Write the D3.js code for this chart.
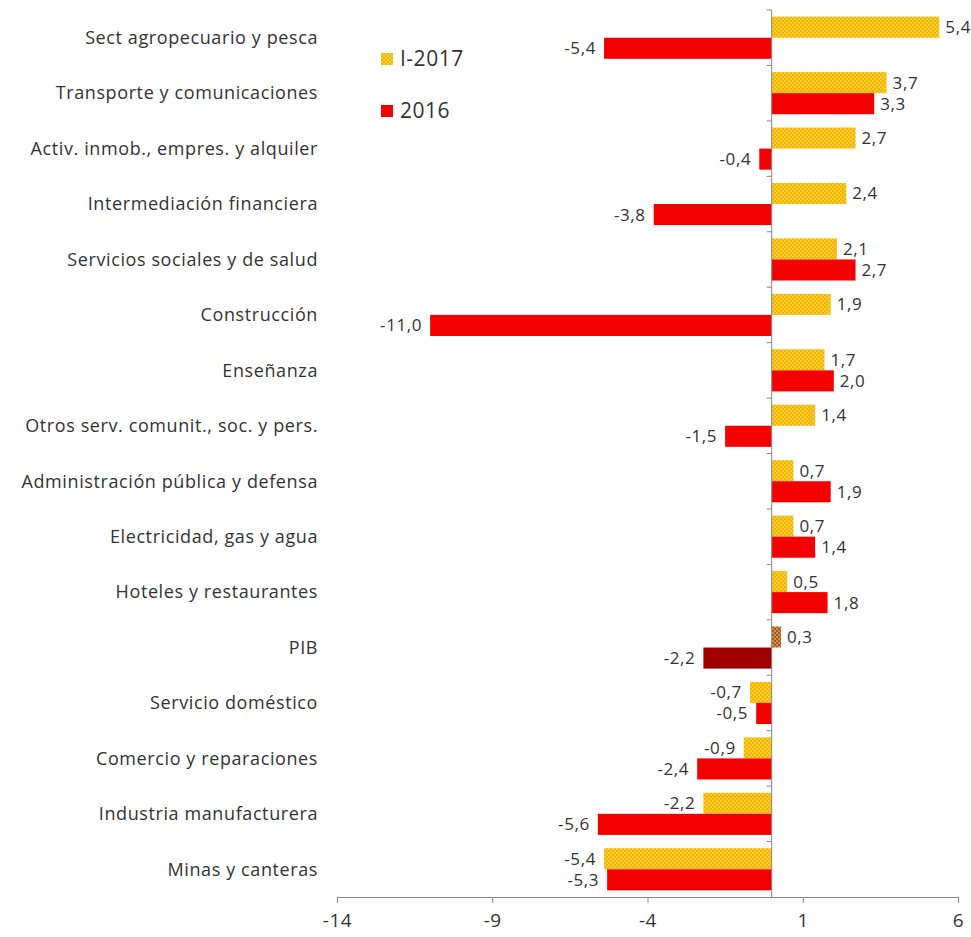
<!DOCTYPE html>
<html>
<head>
<meta charset="utf-8">
<script src="https://cdn.jsdelivr.net/npm/d3@7"></script>
<style>
  body { margin: 0; background: #fff; }
  text { font-family: "Open Sans", "DejaVu Sans", sans-serif; fill: #333; }
</style>
</head>
<body>
<svg id="chart"></svg>
<script>
const categories = [
    'Sect agropecuario y pesca',
    'Transporte y comunicaciones',
    'Activ. inmob., empres. y alquiler',
    'Intermediación financiera',
    'Servicios sociales y de salud',
    'Construcción',
    'Enseñanza',
    'Otros serv. comunit., soc. y pers.',
    'Administración pública y defensa',
    'Electricidad, gas y agua',
    'Hoteles y restaurantes',
    'PIB',
    'Servicio doméstico',
    'Comercio y reparaciones',
    'Industria manufacturera',
    'Minas y canteras'
];
const series = ['I-2017', '2016'];
const values2017 = [5.4, 3.7, 2.7, 2.4, 2.1, 1.9, 1.7, 1.4, 0.7, 0.7, 0.5, 0.3, -0.7, -0.9, -2.2, -5.4];
const values2016 = [-5.4, 3.3, -0.4, -3.8, 2.7, -11.0, 2.0, -1.5, 1.9, 1.4, 1.8, -2.2, -0.5, -2.4, -5.6, -5.3];
const xTicks = [-14, -9, -4, 1, 6];

const width = 971, height = 937;
const margin = {top: 10, right: 13, bottom: 40, left: 337};

const svg = d3.select('#chart').attr('width', width).attr('height', height);

// patterns for the dotted bars
const defs = svg.append('defs');
function dotPattern(id, bg, dot) {
    const p = defs.append('pattern').attr('id', id)
        .attr('patternUnits', 'userSpaceOnUse').attr('width', 4).attr('height', 4);
    p.append('rect').attr('width', 4).attr('height', 4).attr('fill', bg);
    p.append('circle').attr('cx', 1).attr('cy', 1).attr('r', 0.9).attr('fill', dot);
    p.append('circle').attr('cx', 3).attr('cy', 3).attr('r', 0.9).attr('fill', dot);
}
dotPattern('gold', '#f2b600', '#ffd64a');
dotPattern('brown', '#a8561c', '#e8b070');

const x = d3.scaleLinear()
    .domain([-14, 6])
    .range([margin.left, width - margin.right]);

const y = d3.scaleBand()
    .domain(categories)
    .range([margin.top, height - margin.bottom])
    .paddingInner(0.24)
    .paddingOuter(0.12);

const ySub = d3.scaleBand()
    .domain(series)
    .range([0, y.bandwidth()]);

const fmt = v => d3.format('.1f')(v).replace('.', ',').replace('−', '-');

const rows = categories.map((c, i) => ({cat: c, v17: values2017[i], v16: values2016[i]}));

function fillFor(s, d) {
    if (d.cat === 'PIB') return s === 'I-2017' ? 'url(#brown)' : '#a00000';
    return s === 'I-2017' ? 'url(#gold)' : '#f50000';
}

const bars = rows.flatMap(d => [
    {cat: d.cat, s: 'I-2017', v: d.v17},
    {cat: d.cat, s: '2016', v: d.v16}
]);

svg.append('g').selectAll('rect')
    .data(bars)
    .join('rect')
    .attr('x', d => x(Math.min(0, d.v)))
    .attr('width', d => Math.abs(x(d.v) - x(0)))
    .attr('y', d => y(d.cat) + ySub(d.s))
    .attr('height', ySub.bandwidth())
    .attr('fill', d => fillFor(d.s, d));

// value labels
svg.append('g').selectAll('text')
    .data(bars)
    .join('text')
    .attr('x', d => d.v >= 0 ? x(d.v) + 6 : x(d.v) - 8)
    .attr('y', d => y(d.cat) + ySub(d.s) + ySub.bandwidth() / 2)
    .attr('dy', '0.35em')
    .attr('text-anchor', d => d.v >= 0 ? 'start' : 'end')
    .style('font-size', '17px')
    .style('letter-spacing', '0.6px')
    .attr('fill', '#262626')
    .text(d => fmt(d.v));

// x axis
const xAxis = svg.append('g')
    .attr('transform', `translate(0,${height - margin.bottom})`)
    .call(d3.axisBottom(x).tickValues(xTicks).tickSize(6).tickPadding(11).tickFormat(d => d));
xAxis.selectAll('line, path').attr('stroke', '#868686');
xAxis.selectAll('text').style('font-size', '19px').style('letter-spacing', '0.6px').attr('fill', '#262626');

// vertical axis at zero with ticks between categories
const zeroAxis = svg.append('g');
zeroAxis.append('line')
    .attr('x1', x(0)).attr('x2', x(0))
    .attr('y1', margin.top).attr('y2', height - margin.bottom)
    .attr('stroke', '#868686');
const step = y.step();
zeroAxis.selectAll('.tk')
    .data(d3.range(categories.length))
    .join('line')
    .attr('x1', x(0) - 5).attr('x2', x(0))
    .attr('y1', i => margin.top + i * step)
    .attr('y2', i => margin.top + i * step)
    .attr('stroke', '#868686');

// category labels
svg.append('g').selectAll('text')
    .data(categories)
    .join('text')
    .attr('x', margin.left - 19)
    .attr('y', d => y(d) + y.bandwidth() / 2)
    .attr('dy', '0.35em')
    .attr('text-anchor', 'end')
    .style('font-size', '18px')
    .style('letter-spacing', '0.6px')
    .text(d => d);

// legend
const legend = svg.append('g').attr('transform', 'translate(381,53)');
const legendFill = ['url(#gold)', '#f50000'];
legend.selectAll('rect')
    .data(series)
    .join('rect')
    .attr('x', 0)
    .attr('y', (d, i) => i * 52)
    .attr('width', 12).attr('height', 12)
    .attr('fill', (d, i) => legendFill[i]);
legend.selectAll('text')
    .data(series)
    .join('text')
    .attr('x', 19)
    .attr('y', (d, i) => i * 52 + 6)
    .attr('dy', '0.35em')
    .style('font-size', '21px')
    .style('letter-spacing', '0.5px')
    .attr('fill', '#262626')
    .text(d => d);
</script>
</body>
</html>
